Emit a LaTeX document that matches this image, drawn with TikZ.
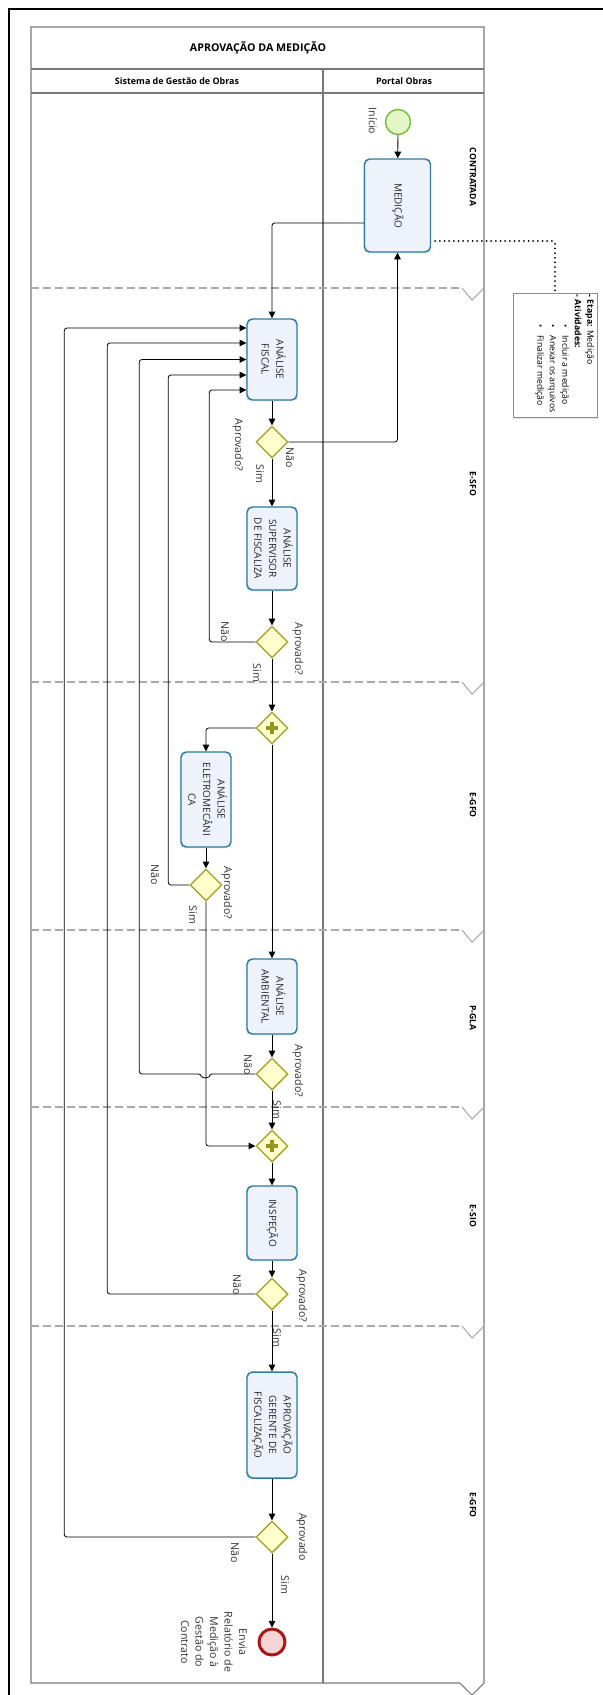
\documentclass[tikz,border=0pt]{standalone}
\usepackage{fontspec}
\setmainfont{Open Sans}
\usetikzlibrary{arrows.meta,shapes.geometric,calc,shadows}
\definecolor{taskline}{RGB}{42,123,166}
\definecolor{taskfill}{RGB}{238,243,251}
\definecolor{gateline}{RGB}{168,168,48}
\definecolor{gatefill}{RGB}{255,255,206}
\definecolor{plusgreen}{RGB}{150,150,30}
\definecolor{startline}{RGB}{120,190,60}
\definecolor{startfill}{RGB}{226,246,200}
\definecolor{endline}{RGB}{170,20,20}
\definecolor{endfill}{RGB}{246,212,214}
\definecolor{poolline}{RGB}{120,120,120}
\definecolor{mileline}{RGB}{170,170,170}
\newcommand{\vlines}[1]{\rotatebox{-90}{\begin{tabular}{@{}c@{}}#1\end{tabular}}}

\begin{document}
\begin{tikzpicture}[x=0.75pt, y=-0.75pt,
  every node/.style={font=\fontsize{8}{10}\selectfont, inner sep=0pt},
  task/.style={draw=taskline, fill=taskfill, line width=1.1pt, rounded corners=4pt,
    minimum width=37.5pt, font=\fontsize{7.5}{11}\selectfont, text=black!85,
    drop shadow={opacity=0.2, shadow xshift=-1pt, shadow yshift=-1pt}},
  gate/.style={diamond, aspect=1, draw=gateline, fill=gatefill, line width=1.1pt,
    minimum width=24pt, minimum height=24pt},
  pgate/.style={gate, path picture={
    \draw[plusgreen, line width=2.6pt]
      ([xshift=-4.8pt]path picture bounding box.center) -- ([xshift=4.8pt]path picture bounding box.center)
      ([yshift=-4.8pt]path picture bounding box.center) -- ([yshift=4.8pt]path picture bounding box.center);}},
  flow/.style={-{Triangle[length=5pt,width=5pt]}, line width=0.6pt, rounded corners=2pt},
  assoc/.style={line width=1.5pt, dash pattern=on 0pt off 3.5pt, line cap=round, rounded corners=2pt},
  lbl/.style={rotate=-90, text=black!80},
  mile/.style={rotate=-90, font=\fontsize{6.5}{8}\selectfont\bfseries},
  head/.style={font=\fontsize{6.7}{8}\selectfont\bfseries}]

  \useasboundingbox (0,0) rectangle (603,1695);
  \fill[white] (0,0) rectangle (603,1695);
  \draw[line width=1pt] (9,1700) -- (9,9) -- (610,9);

  \draw[poolline, line width=0.8pt] (31,27) -- (484,27) -- (484,1683) -- (472,1695) -- (460,1683) -- (31,1683) -- cycle;
  \draw[poolline, line width=0.8pt] (31,69) -- (484,69) (31,93) -- (484,93) (323,69) -- (323,1683);
  \foreach \y in {288,682,930,1107,1326} {
    \draw[mileline, dashed, dash pattern=on 6pt off 3pt, line width=0.8pt] (31,\y) -- (462,\y);
    \draw[mileline, line width=0.8pt] (462,\y) -- (472,\y+12) -- (484,\y);
  }

  \node[font=\fontsize{8}{10}\selectfont\bfseries] (title) at (258,48) {APROVAÇÃO DA MEDIÇÃO};
  \node[head] (lanesgo) at (177,81) {Sistema de Gestão de Obras};
  \node[head] (laneportal) at (404,81) {Portal Obras};

  \node[mile] (m1) at (473,177) {CONTRATADA};
  \node[mile] (m2) at (473,484) {E-SFO};
  \node[mile] (m3) at (473,805) {E-GFO};
  \node[mile] (m4) at (473,1018) {P-GLA};
  \node[mile] (m5) at (473,1216) {E-SIO};
  \node[mile] (m6) at (473,1505) {E-GFO};

  \node[circle, draw=startline, fill=startfill, line width=1.1pt, minimum size=18.75pt] (inicio) at (398,122) {};
  \node[task, minimum width=49.5pt, minimum height=69.75pt] (med) at (397.5,205.5) {\vlines{MEDIÇÃO}};
  \node[task, minimum height=60.75pt] (af) at (272,359.5) {\vlines{ANÁLISE\\FISCAL}};
  \node[gate] (g1) at (272,442) {};
  \node[task, minimum height=62.25pt] (sup) at (272,548.5) {\vlines{ANÁLISE\\SUPERVISOR\\DE FISCALIZA}};
  \node[gate] (g2) at (272,642) {};
  \node[pgate] (pg1) at (272,728) {};
  \node[task, minimum height=71.25pt] (eletro) at (206,799.5) {\vlines{ANÁLISE\\ELETROMECÂNI\\CA}};
  \node[gate] (g3) at (206,885) {};
  \node[task, minimum height=56.25pt] (amb) at (272,996.5) {\vlines{ANÁLISE\\AMBIENTAL}};
  \node[gate] (g4) at (272,1074) {};
  \node[pgate] (pg2) at (272,1146) {};
  \node[task, minimum height=55.5pt] (insp) at (272,1223) {\vlines{INSPEÇÃO}};
  \node[gate] (g5) at (272,1294) {};
  \node[task, minimum height=79.5pt] (ger) at (272,1425) {\vlines{APROVAÇÃO\\GERENTE DE\\FISCALIZAÇÃO}};
  \node[gate] (g6) at (272,1537) {};
  \node[circle, draw=endline, fill=endfill, line width=2.2pt, minimum size=19.5pt,
    drop shadow={opacity=0.2, shadow xshift=-1pt, shadow yshift=-1pt}] (fim) at (272,1642) {};

  \node[draw=black!45, fill=white, line width=0.5pt, minimum width=63pt, minimum height=93pt,
    drop shadow={opacity=0.2, shadow xshift=1pt, shadow yshift=-1.5pt}] (note) at (555,355) {};
  \node[rotate=-90, anchor=north west, align=left, font=\fontsize{6.5}{9.4}\selectfont]
    (notetxt) at ($(note.north east)+(-3,2)$)
    {\textbf{- Etapa:} Medição\\ \textbf{- Atividades:}\\
     \hspace*{22pt}•\hspace*{6pt}Incluir a medição\\
     \hspace*{22pt}•\hspace*{6pt}Anexar os arquivos\\
     \hspace*{22pt}•\hspace*{6pt}Finalizar medição};

  \coordinate (mout) at ($(med.west)+(0,17.5)$);
  \coordinate (in1) at ($(af.west)+(0,-31.5)$);
  \coordinate (in2) at ($(af.west)+(0,-16.5)$);
  \coordinate (in3) at (af.west);
  \coordinate (in4) at ($(af.west)+(0,15.5)$);
  \coordinate (in5) at ($(af.west)+(0,30.5)$);

  \draw[flow] (inicio) -- (med);
  \draw[flow] (mout) -| (af.north);
  \draw[flow] (af) -- (g1);
  \draw[flow] (g1.east) -| (med.south);
  \draw[flow] (g1) -- (sup);
  \draw[flow] (sup) -- (g2);
  \draw[flow] (g2.west) -- ++(-46,0) |- (in5);
  \draw[flow] (g2) -- (pg1);
  \draw[flow] (pg1.west) -| (eletro.north);
  \draw[flow] (pg1) -- (amb);
  \draw[flow] (eletro) -- (g3);
  \draw[flow] (g3.west) -- ++(-21,0) |- (in4);
  \draw[flow] (g3.south) |- (pg2.west);
  \draw[flow] (amb) -- (g4);
  \draw[flow] (g4.west) -- ++(-46,0) arc[start angle=0, end angle=-180, radius=3pt] -- ++(-62,0) |- (in3);
  \draw[flow] (g4) -- (pg2);
  \draw[flow] (pg2) -- (insp);
  \draw[flow] (insp) -- (g5);
  \draw[flow] (g5.west) -- ++(-148,0) |- (in2);
  \draw[flow] (g5) -- (ger);
  \draw[flow] (ger) -- (g6);
  \draw[flow] (g6.west) -- ++(-191,0) |- (in1);
  \draw[flow] (g6) -- (fim);
  \draw[assoc] ($(med.east)+(4,35.5)$) -| (note.north);

  \node[lbl] (linicio) at (373,121) {Início};
  \node[lbl] (lq1) at (238,445) {Aprovado?};
  \node[lbl] (ln1) at (290,458) {Não};
  \node[lbl] (ls1) at (260,474) {Sim};
  \node[lbl] (ln2) at (225,632) {Não};
  \node[lbl] (lq2) at (298,649) {Aprovado?};
  \node[lbl] (ls2) at (257,673) {Sim};
  \node[lbl] (ln3) at (155,875) {Não};
  \node[lbl] (lq3) at (227,893) {Aprovado?};
  \node[lbl] (ls3) at (193,915) {Sim};
  \node[lbl] (ln4) at (248,1065) {Não};
  \node[lbl] (lq4) at (298,1071) {Aprovado?};
  \node[lbl] (ls4) at (277,1110) {Sim};
  \node[lbl] (ln5) at (237,1285) {Não};
  \node[lbl] (lq5) at (302,1296) {Aprovado?};
  \node[lbl] (ls5) at (277,1338) {Sim};
  \node[lbl] (ln6) at (235,1553) {Não};
  \node[lbl] (lq6) at (302,1537) {Aprovado};
  \node[lbl] (ls6) at (285,1585) {Sim};
  \node[lbl, align=center, font=\fontsize{8}{10.9}\selectfont] (lfim) at (214,1642)
    {Envia\\Relatório de\\Medição à\\Gestão do\\Contrato};
\end{tikzpicture}
\end{document}
